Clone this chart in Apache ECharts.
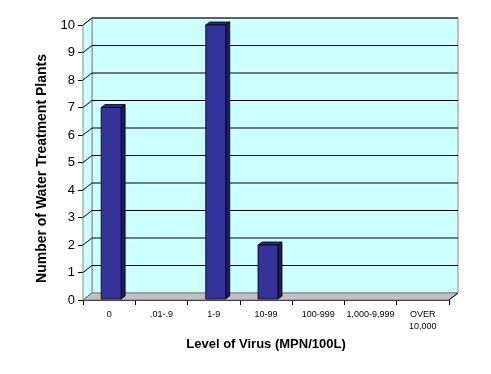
<!DOCTYPE html>
<html><head><meta charset="utf-8">
<script src="https://cdn.jsdelivr.net/npm/echarts@6/dist/echarts.min.js"></script>
<style>html,body{margin:0;padding:0;background:#fff}#c{width:491px;height:374px}</style>
</head><body><div id="c"></div>
<script>
var categories = ['0', '.01-.9', '1-9', '10-99', '100-999', '1,000-9,999', 'OVER\n10,000'];
var plantCounts = [7, 0, 10, 2, 0, 0, 0];
var yTicks = [0, 1, 2, 3, 4, 5, 6, 7, 8, 9, 10];

var DX = 9, DY = -7;      // depth of the 3D box
var BDX = 4, BDY = -3;    // depth of each bar
var BAR_W = 20, BAR_SHIFT = 2;

var chart = echarts.init(document.getElementById('c'));

function renderBox(params, api) {
  var cs = params.coordSys;
  var x = cs.x, y = cs.y, w = cs.width, h = cs.height;
  var children = [];
  children.push({type: 'rect', shape: {x: x + DX, y: y + DY, width: w, height: h},
    style: {fill: '#CCFFFF', stroke: '#8a8a8a', lineWidth: 1}});
  children.push({type: 'polygon', shape: {points: [[x, y], [x + DX, y + DY], [x + DX, y + h + DY], [x, y + h]]},
    style: {fill: '#CCFFFF', stroke: '#8a8a8a', lineWidth: 1}});
  yTicks.forEach(function (v) {
    var py = api.coord([0, v])[1];
    if (v > 0) {
      children.push({type: 'line', shape: {x1: x + DX, y1: py + DY, x2: x + w + DX, y2: py + DY},
        style: {stroke: '#000', lineWidth: 1}});
    }
    children.push({type: 'line', shape: {x1: x, y1: py, x2: x + DX, y2: py + DY},
      style: {stroke: '#000', lineWidth: 1}});
  });
  children.push({type: 'polygon', shape: {points: [[x, y + h], [x + w, y + h], [x + w + DX, y + h + DY], [x + DX, y + h + DY]]},
    style: {fill: '#C0C0C0', stroke: '#808080', lineWidth: 1}});
  children.push({type: 'line', shape: {x1: x + w, y1: y + h, x2: x + w + DX, y2: y + h + DY},
    style: {stroke: '#000', lineWidth: 1}});
  return {type: 'group', children: children};
}

function renderBar(params, api) {
  var idx = api.value(0), val = api.value(1);
  if (!val) return null;
  var top = api.coord([idx, val]);
  var bot = api.coord([idx, 0]);
  var x0 = top[0] - BAR_W / 2 + BAR_SHIFT, x1 = x0 + BAR_W;
  var yt = top[1], yb = bot[1] - 1;
  return {type: 'group', children: [
    {type: 'polygon', shape: {points: [[x1, yt], [x1 + BDX, yt + BDY], [x1 + BDX, yb + BDY], [x1, yb]]},
      style: {fill: '#1c1c5e', stroke: '#000', lineWidth: 0.8}},
    {type: 'polygon', shape: {points: [[x0, yt], [x0 + BDX, yt + BDY], [x1 + BDX, yt + BDY], [x1, yt]]},
      style: {fill: '#2a2a80', stroke: '#000', lineWidth: 0.8}},
    {type: 'rect', shape: {x: x0, y: yt, width: BAR_W, height: yb - yt},
      style: {fill: '#333399', stroke: '#000', lineWidth: 0.8}}
  ]};
}

chart.setOption({
  animation: false,
  backgroundColor: '#ffffff',
  textStyle: {fontFamily: 'Liberation Sans, Arial, sans-serif'},
  grid: {left: 83, right: 42, top: 25, bottom: 74},
  xAxis: {
    type: 'category', data: categories,
    axisLine: {lineStyle: {color: '#000', width: 1}},
    axisTick: {show: true, length: 5, lineStyle: {color: '#000'}},
    axisLabel: {fontSize: 9, color: '#000', margin: 9, lineHeight: 12, interval: 0},
    name: 'Level of Virus (MPN/100L)', nameLocation: 'middle', nameGap: 37,
    nameTextStyle: {fontSize: 13, fontWeight: 'bold', color: '#000'}
  },
  yAxis: {
    type: 'value', min: 0, max: 10, interval: 1,
    axisLine: {show: true, lineStyle: {color: '#000', width: 1}},
    axisTick: {show: true, length: 5, lineStyle: {color: '#000'}},
    axisLabel: {fontSize: 13, color: '#000', margin: 8},
    splitLine: {show: false},
    name: 'Number of Water Treatment Plants', nameLocation: 'middle', nameGap: 27,
    nameTextStyle: {fontSize: 14, fontWeight: 'bold', color: '#000', padding: [0, 12, 0, 0]}
  },
  series: [
    {type: 'custom', renderItem: renderBox, data: [[0, 0]], z: 1, silent: true},
    {type: 'custom', renderItem: renderBar, z: 3,
      data: plantCounts.map(function (v, i) { return [i, v]; })}
  ]
});
</script></body></html>
